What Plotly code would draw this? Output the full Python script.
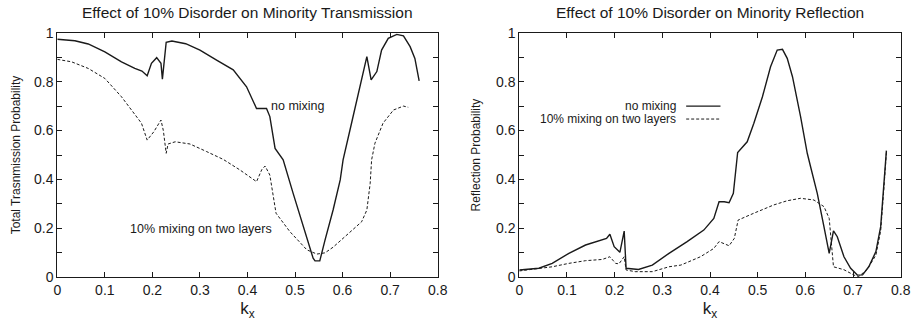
import plotly.graph_objects as go

# ---- Transmission panel data ----
kx_t_nomix = [0.0, 0.037, 0.065, 0.10, 0.135, 0.163, 0.178, 0.189, 0.198, 0.209, 0.218, 0.221, 0.229,
              0.241, 0.27, 0.30, 0.335, 0.37, 0.398, 0.419, 0.44, 0.447, 0.458, 0.475, 0.496, 0.517,
              0.538, 0.542, 0.552, 0.563, 0.58, 0.595, 0.601, 0.62, 0.640, 0.651, 0.660, 0.672,
              0.682, 0.696, 0.714, 0.728, 0.742, 0.752, 0.761]
t_nomix = [0.973, 0.967, 0.954, 0.922, 0.881, 0.854, 0.843, 0.824, 0.875, 0.898, 0.875, 0.81, 0.961,
           0.966, 0.955, 0.929, 0.888, 0.848, 0.779, 0.69, 0.69, 0.657, 0.527, 0.48, 0.343, 0.207,
           0.078, 0.067, 0.067, 0.152, 0.275, 0.398, 0.48, 0.64, 0.807, 0.902, 0.807, 0.841,
           0.929, 0.977, 0.993, 0.987, 0.943, 0.895, 0.803]

kx_t_mix = [0.0, 0.030, 0.065, 0.10, 0.135, 0.163, 0.177, 0.189, 0.203, 0.218, 0.223, 0.229, 0.233,
            0.248, 0.279, 0.314, 0.349, 0.384, 0.419, 0.430, 0.437, 0.447, 0.460, 0.489, 0.525,
            0.546, 0.563, 0.58, 0.608, 0.640, 0.651, 0.658, 0.661, 0.668, 0.685, 0.707, 0.728, 0.738]
t_mix = [0.891, 0.881, 0.854, 0.813, 0.738, 0.664, 0.63, 0.561, 0.595, 0.643, 0.60, 0.507, 0.545,
         0.554, 0.545, 0.514, 0.482, 0.439, 0.391, 0.44, 0.455, 0.418, 0.262, 0.187, 0.112,
         0.095, 0.1, 0.123, 0.173, 0.227, 0.275, 0.384, 0.48, 0.548, 0.63, 0.684, 0.70, 0.695]

# ---- Reflection panel data ----
kx_r_nomix = [0.0, 0.041, 0.069, 0.104, 0.139, 0.167, 0.183, 0.190, 0.199, 0.211, 0.220, 0.224,
              0.25, 0.279, 0.314, 0.352, 0.387, 0.408, 0.419, 0.43, 0.44, 0.449, 0.456,
              0.458, 0.478, 0.492, 0.51, 0.527, 0.541, 0.552, 0.562, 0.573, 0.59, 0.604, 0.611,
              0.625, 0.639, 0.65, 0.659, 0.667, 0.681, 0.695, 0.709, 0.72, 0.733, 0.748, 0.758,
              0.765, 0.770]
r_nomix = [0.03, 0.037, 0.057, 0.098, 0.132, 0.15, 0.159, 0.176, 0.125, 0.102, 0.189, 0.037,
           0.032, 0.05, 0.098, 0.146, 0.193, 0.241, 0.309, 0.309, 0.305, 0.343, 0.48,
           0.51, 0.554, 0.63, 0.738, 0.861, 0.929, 0.932, 0.895, 0.82, 0.657, 0.507, 0.452,
           0.343, 0.207, 0.098, 0.19, 0.166, 0.084, 0.037, 0.009, 0.01, 0.043, 0.105, 0.207,
           0.398, 0.518]

kx_r_mix = [0.0, 0.069, 0.104, 0.139, 0.174, 0.190, 0.202, 0.209, 0.220, 0.224, 0.243, 0.279,
            0.314, 0.339, 0.380, 0.408, 0.419, 0.44, 0.451, 0.459, 0.492, 0.534, 0.562,
            0.59, 0.618, 0.639, 0.65, 0.659, 0.681, 0.702, 0.712, 0.73, 0.748, 0.758, 0.765, 0.770]
r_mix = [0.026, 0.043, 0.057, 0.068, 0.073, 0.084, 0.057, 0.055, 0.084, 0.03, 0.023, 0.023,
         0.043, 0.05, 0.084, 0.118, 0.146, 0.129, 0.159, 0.234, 0.262, 0.296, 0.313,
         0.323, 0.316, 0.289, 0.241, 0.043, 0.031, 0.009, 0.003, 0.033, 0.091, 0.19, 0.37, 0.51]

x_ticks = [0, 0.1, 0.2, 0.3, 0.4, 0.5, 0.6, 0.7, 0.8]
y_ticks = [0, 0.2, 0.4, 0.6, 0.8, 1]

INK = "#1a1a1a"
FONT = "Liberation Sans, Arial, sans-serif"
solid = dict(color=INK, width=1.4)
dashed = dict(color=INK, width=1.0, dash="3px,2px")

fig = go.Figure()
fig.add_trace(go.Scatter(x=kx_t_nomix, y=t_nomix, mode="lines", line=solid, xaxis="x", yaxis="y"))
fig.add_trace(go.Scatter(x=kx_t_mix, y=t_mix, mode="lines", line=dashed, xaxis="x", yaxis="y"))
fig.add_trace(go.Scatter(x=kx_r_nomix, y=r_nomix, mode="lines", line=solid, xaxis="x2", yaxis="y2"))
fig.add_trace(go.Scatter(x=kx_r_mix, y=r_mix, mode="lines", line=dashed, xaxis="x2", yaxis="y2"))

def xaxis(domain, anchor):
    return dict(domain=domain, anchor=anchor, range=[0, 0.8], tickvals=x_ticks,
                ticks="inside", ticklen=5, tickcolor=INK, showline=True, linecolor=INK,
                linewidth=1, mirror="ticks", showgrid=False, zeroline=False, automargin=False,
                tickfont=dict(size=14, color=INK),
                title=dict(text="k<sub>x</sub>", font=dict(size=17, color=INK), standoff=6))

def yaxis(domain, anchor, title, standoff):
    return dict(domain=domain, anchor=anchor, range=[0, 1], tickvals=y_ticks,
                ticks="inside", ticklen=5, tickcolor=INK, showline=True, linecolor=INK,
                linewidth=1, mirror="ticks", showgrid=False, zeroline=False, automargin=False,
                minor=dict(dtick=0.1, ticks="inside", ticklen=5, tickcolor=INK, showgrid=False),
                tickfont=dict(size=14, color=INK),
                title=dict(text=title, font=dict(size=12, color=INK), standoff=standoff))

ydom = [1 - 277.3 / 321, 1 - 32.7 / 321]
fig.update_layout(
    width=914, height=321,
    margin=dict(l=0, r=0, t=0, b=0, autoexpand=False),
    paper_bgcolor="white", plot_bgcolor="white",
    showlegend=False,
    font=dict(family=FONT, color=INK),
    xaxis=xaxis([57.3 / 914, 437.7 / 914], "y"),
    yaxis=yaxis(ydom, "x", "Total Trasnmission Probability", 10),
    xaxis2=xaxis([519.3 / 914, 900.7 / 914], "y2"),
    yaxis2=yaxis(ydom, "x2", "Reflection Probability", 12),
)

# Panel titles
fig.add_annotation(text="Effect of 10% Disorder on Minority Transmission", xref="x domain", yref="paper",
                   x=0.5, y=1 - 12 / 321, showarrow=False, font=dict(size=15.5, color=INK),
                   xanchor="center", yanchor="middle")
fig.add_annotation(text="Effect of 10% Disorder on Minority Reflection", xref="x2 domain", yref="paper",
                   x=0.5, y=1 - 12 / 321, showarrow=False, font=dict(size=15.5, color=INK),
                   xanchor="center", yanchor="middle")

# Curve labels on the transmission panel
fig.add_annotation(text="no mixing", x=0.506, y=0.70, xref="x", yref="y", showarrow=False,
                   font=dict(size=12.5, color=INK))
fig.add_annotation(text="10% mixing on two layers", x=0.303, y=0.196, xref="x", yref="y",
                   showarrow=False, font=dict(size=12.5, color=INK))

# Key on the reflection panel
key = [("no mixing", 0.70, solid), ("10% mixing on two layers", 0.647, dashed)]
for label, yk, style in key:
    fig.add_annotation(text=label, x=0.333, y=yk, xref="x2", yref="y2", showarrow=False,
                       xanchor="right", yanchor="middle", font=dict(size=12, color=INK))
    fig.add_shape(type="line", x0=0.35, x1=0.422, y0=yk, y1=yk, xref="x2", yref="y2", line=style)

fig.write_html("out.html")
